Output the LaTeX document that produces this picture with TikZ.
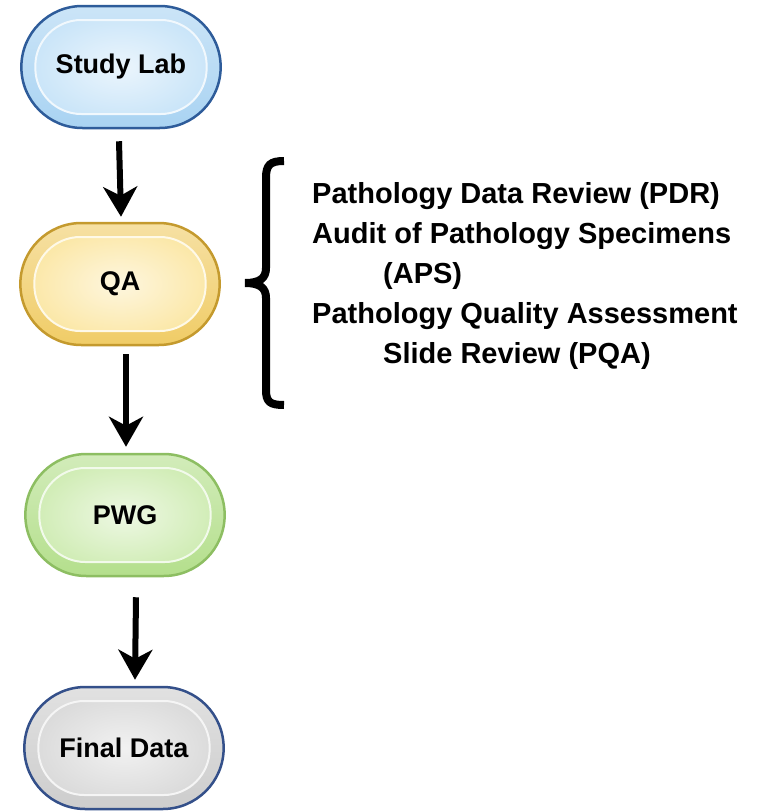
\documentclass[tikz,border=0pt]{standalone}
\usepackage{fontspec}
\setmainfont{Liberation Sans}
\usetikzlibrary{arrows.meta,shapes.misc}

\definecolor{labOuter}{HTML}{A9D3F2}
\definecolor{labInner}{HTML}{C6E3F8}
\definecolor{labEdge}{HTML}{2E5C9A}
\definecolor{qaOuter}{HTML}{F0CC66}
\definecolor{qaInner}{HTML}{FBE6A2}
\definecolor{qaEdge}{HTML}{C49A2E}
\definecolor{pwgOuter}{HTML}{B4DF8C}
\definecolor{pwgInner}{HTML}{CDEBB0}
\definecolor{pwgEdge}{HTML}{8DBE62}
\definecolor{finOuter}{HTML}{CDCDCD}
\definecolor{finInner}{HTML}{D8D8D8}
\definecolor{finEdge}{HTML}{34508A}

\tikzset{
  pill/.style n args={3}{rounded rectangle, minimum width=206pt, minimum height=122pt,
    draw=#3, line width=2.5pt, top color=#1!60!white, bottom color=#1,
    font=\fontsize{27}{32}\selectfont\bfseries,
    path picture={\shadedraw[inner color=#2!35!white, outer color=#2, draw=white!75!#2,
      line width=2pt, rounded corners=46pt]
      ([xshift=14pt,yshift=-14pt]path picture bounding box.north west) rectangle
      ([xshift=-14pt,yshift=14pt]path picture bounding box.south east);}},
  flow/.style={line width=6pt, -{Stealth[length=30pt, width=34pt, inset=9pt]}}
}

\begin{document}
\begin{tikzpicture}[x=1pt, y=-1pt]
\useasboundingbox (0,0) rectangle (759,811);
% Stufen
\node (lab) [pill={labOuter}{labInner}{labEdge}] at (121,67) {Study Lab};
\node (qa) [pill={qaOuter}{qaInner}{qaEdge}] at (120,284) {QA};
\node (pwg) [pill={pwgOuter}{pwgInner}{pwgEdge}] at (125,515) {PWG};
\node (fin) [pill={finOuter}{finInner}{finEdge}] at (124,748) {Final Data};
% Pfeile
\draw[flow] ([xshift=-2pt,yshift=-12pt]lab.south) -- ([xshift=1pt,yshift=5pt]qa.north);
\draw[flow] ([xshift=6pt,yshift=-8pt]qa.south) -- ([xshift=1pt,yshift=6pt]pwg.north);
\draw[flow] ([xshift=11pt,yshift=-20pt]pwg.south) -- ([xshift=11pt,yshift=6pt]fin.north);
% Klammer
\draw[line width=8pt] (284,161) .. controls (270,161) and (266,165) .. (266,178) -- (266,268)
  .. controls (266,278) and (260,283) .. (245,283) .. controls (260,283) and (266,288) .. (266,298)
  -- (266,390) .. controls (266,402) and (270,405) .. (284,405);
% Liste
\node (reviews) [anchor=north west, align=left, inner sep=0pt,
  font=\fontsize{29}{40}\selectfont\bfseries] at (312,182)
  {Pathology Data Review (PDR)\\
   Audit of Pathology Specimens\\
   \hspace*{71pt}(APS)\\
   Pathology Quality Assessment\\
   \hspace*{71pt}Slide Review (PQA)};
\end{tikzpicture}
\end{document}
